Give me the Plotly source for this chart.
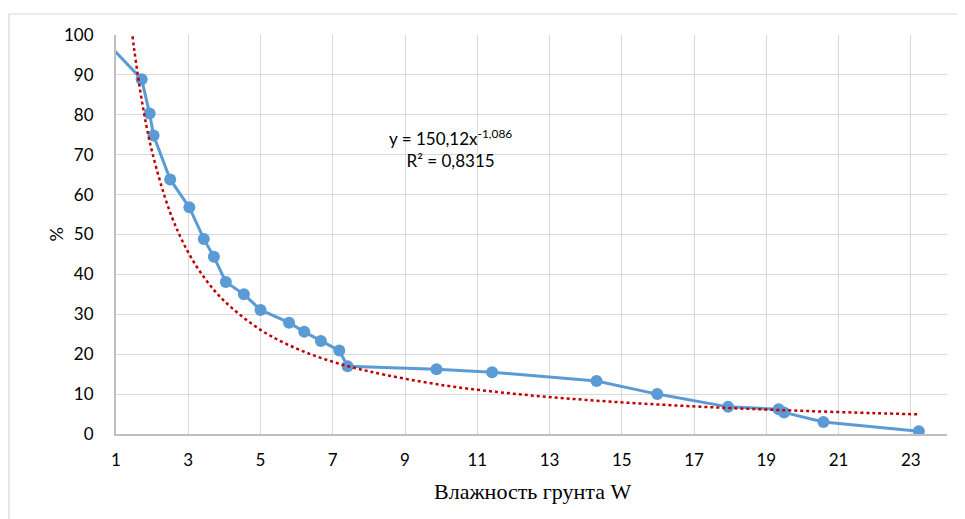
import plotly.graph_objects as go

# Observed data (soil moisture W vs %)
w_values = [0.8, 1.71, 1.93, 2.04, 2.50, 3.03, 3.43, 3.71, 4.04, 4.54, 5.00, 5.79,
            6.21, 6.67, 7.18, 7.41, 9.87, 11.41, 14.30, 15.98, 17.94, 19.34,
            19.49, 20.58, 23.22]
pct_values = [97.6, 88.9, 80.3, 74.8, 63.8, 56.8, 48.9, 44.4, 38.1, 35.0, 31.1, 27.9,
              25.6, 23.3, 20.9, 17.0, 16.2, 15.5, 13.3, 10.0, 6.8, 6.2,
              5.4, 3.0, 0.7]

# Power trendline
trend_x = [1.4, 1.5, 1.75, 2, 2.5, 3, 3.5, 4, 5, 6, 7, 8, 10, 12, 14, 16, 18, 20, 22, 23.2]
trend_y = [104.2, 96.6, 81.7, 70.7, 55.5, 45.5, 38.5, 33.3, 26.1, 21.4, 18.1, 15.7,
           12.3, 10.1, 8.55, 7.39, 6.50, 5.80, 5.22, 4.93]

x_ticks = [1, 3, 5, 7, 9, 11, 13, 15, 17, 19, 21, 23]
y_ticks = [0, 10, 20, 30, 40, 50, 60, 70, 80, 90, 100]

equation_text = "y = 150,12x<sup>-1,086</sup><br>R² = 0,8315"
x_title = "Влажность грунта W"
y_title = "%"

blue = "#5b9bd5"
red = "#c00000"
font_family = "Lato, 'Open Sans', sans-serif"
serif_family = "'Liberation Serif', 'Times New Roman', serif"

fig = go.Figure()
fig.add_trace(go.Scatter(
    x=w_values, y=pct_values, mode="lines+markers",
    line=dict(color=blue, width=3),
    marker=dict(color=blue, size=12),
    selectedpoints=list(range(1, len(w_values))),
    selected=dict(marker=dict(opacity=1)),
    unselected=dict(marker=dict(opacity=0)),
    showlegend=False, hoverinfo="x+y",
))
fig.add_trace(go.Scatter(
    x=trend_x, y=trend_y, mode="lines",
    line=dict(color=red, width=2.5, dash="dot", shape="spline"),
    showlegend=False, hoverinfo="skip",
))

fig.add_annotation(
    x=10.25, y=71.5, xref="x", yref="y", text=equation_text, showarrow=False,
    font=dict(family=font_family, size=17, color="#000000"), align="center",
)
fig.add_annotation(
    x=0.502, y=-0.145, xref="paper", yref="paper", text=x_title, showarrow=False,
    xanchor="center", yanchor="middle",
    font=dict(family=serif_family, size=22, color="#000000"),
)
fig.add_annotation(
    x=-0.0734, y=0.5, xref="paper", yref="paper", text=y_title, showarrow=False,
    xanchor="center", yanchor="middle",
    textangle=-90, font=dict(family=font_family, size=18, color="#000000"),
)

fig.add_shape(type="rect", xref="paper", yref="paper",
              x0=-0.1288, x1=1.03, y0=-0.25, y1=1.0526,
              line=dict(color="#d9d9d9", width=1.2), fillcolor="rgba(0,0,0,0)", layer="below")

fig.update_layout(
    width=965, height=519,
    margin=dict(l=108, r=26, t=27, b=93, autoexpand=False),
    paper_bgcolor="white", plot_bgcolor="white",
    font=dict(family=font_family, size=17, color="#000000"),
    xaxis=dict(
        range=[1, 24], tickvals=x_ticks, ticktext=[str(v) for v in x_ticks],
        showgrid=True, gridcolor="#d9d9d9", gridwidth=1.3,
        showline=True, linecolor="#bfbfbf", linewidth=2,
        zeroline=False, ticks="", ticklabelstandoff=10, automargin=False,
    ),
    yaxis=dict(
        range=[0, 100], tickvals=y_ticks,
        showgrid=True, gridcolor="#d9d9d9", gridwidth=1.3,
        showline=True, linecolor="#bfbfbf", linewidth=2,
        zeroline=False, ticks="", ticklabelstandoff=17, automargin=False,
    ),
)

fig.write_html("out.html")
